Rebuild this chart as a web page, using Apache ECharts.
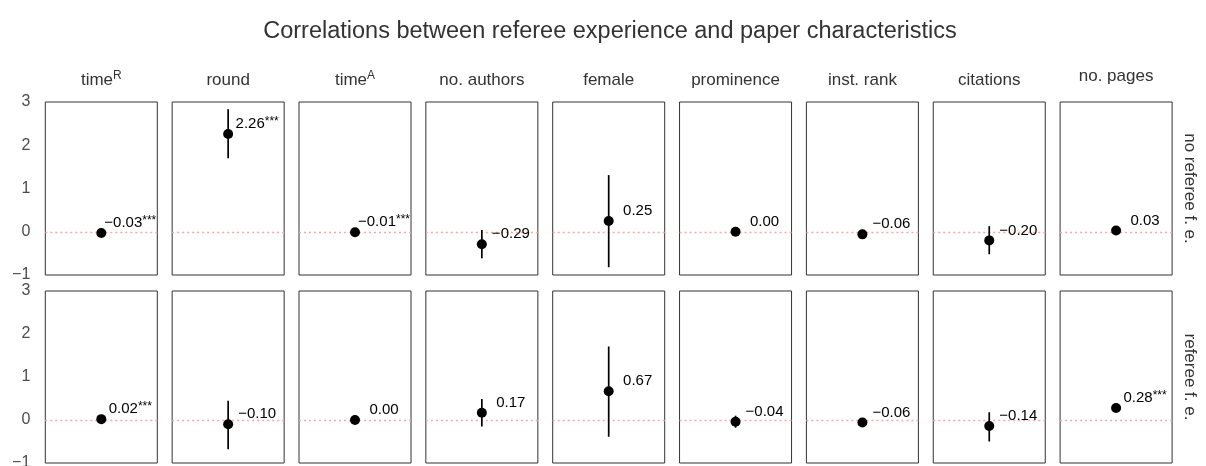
<!DOCTYPE html>
<html><head><meta charset="utf-8">
<script src="https://cdn.jsdelivr.net/npm/echarts@6/dist/echarts.min.js"></script>
<style>html,body{margin:0;padding:0;background:#fff}#c{width:1206px;height:466px}</style>
</head><body><div id="c"></div>
<script>
// ---- data ----
const chartTitle = 'Correlations between referee experience and paper characteristics';
const varNames = ['time', 'round', 'time', 'no. authors', 'female', 'prominence', 'inst. rank', 'citations', 'no. pages'];
const varSups  = ['R', '', 'A', '', '', '', '', '', ''];
const rowLabels = ['no referee f. e.', 'referee f. e.'];
const yTicks = [-1, 0, 1, 2, 3];

const estNoFE   = [-0.03, 2.26, -0.01, -0.29, 0.25, 0.00, -0.06, -0.20, 0.03];
const loNoFE    = [-0.06, 1.70, -0.03, -0.61, -0.82, -0.03, -0.09, -0.52, 0.00];
const hiNoFE    = [ 0.00, 2.83,  0.01,  0.04,  1.31,  0.03, -0.03,  0.13, 0.06];
const starsNoFE = ['***', '***', '***', '', '', '', '', '', ''];

const estFE   = [0.02, -0.10, 0.00, 0.17, 0.67, -0.04, -0.06, -0.14, 0.28];
const loFE    = [-0.01, -0.68, -0.03, -0.15, -0.39, -0.18, -0.09, -0.50, 0.24];
const hiFE    = [ 0.05,  0.45,  0.03,  0.49,  1.71,  0.10, -0.03,  0.18, 0.32];
const starsFE = ['***', '', '', '', '', '', '', '', '***'];

const rows = [
  {est: estNoFE, lo: loNoFE, hi: hiNoFE, stars: starsNoFE},
  {est: estFE, lo: loFE, hi: hiFE, stars: starsFE}
];

// ---- layout ----
const colLeft0 = 45.3, colStep = 126.85, colW = 112;
const rowTop = [102, 291], rowH = [173, 172];
const FONT = 'Liberation Sans, Arial, sans-serif';

const fmt = v => {
  const s = Math.abs(v).toFixed(2);
  return (v < 0 ? '\u2212' : '') + s;
};

const grids = [], xAxes = [], yAxes = [], series = [], graphics = [];
let gi = 0;
rows.forEach((row, r) => {
  varNames.forEach((name, c) => {
    grids.push({left: colLeft0 + c * colStep, top: rowTop[r], width: colW, height: rowH[r],
      containLabel: false, outerBoundsMode: 'none',
      show: true, borderColor: '#333', borderWidth: 1, backgroundColor: '#fff'});
    xAxes.push({type: 'value', gridIndex: gi, min: 0, max: 2, show: false});
    yAxes.push({type: 'value', gridIndex: gi, min: yTicks[0], max: yTicks[yTicks.length - 1], interval: 1,
      axisLine: {show: false}, axisTick: {show: false}, splitLine: {show: false},
      axisLabel: {show: c === 0, color: '#4d4d4d', fontSize: 16, margin: 15, fontFamily: FONT,
        formatter: v => (v < 0 ? '\u2212' + Math.abs(v) : String(v))}});
    series.push({
      type: 'custom', xAxisIndex: gi, yAxisIndex: gi, z: 3,
      data: [[1, row.lo[c], row.hi[c]]],
      renderItem: (params, api) => {
        const p1 = api.coord([api.value(0), api.value(1)]);
        const p2 = api.coord([api.value(0), api.value(2)]);
        return {type: 'line', shape: {x1: p1[0], y1: p1[1], x2: p2[0], y2: p2[1]},
          style: {stroke: '#000', lineWidth: 1.7}};
      },
      markLine: {
        silent: true, symbol: 'none', animation: false, z: 1,
        label: {show: false},
        lineStyle: {color: '#f6a9a9', type: [2, 3], width: 1.3, opacity: 1},
        data: [{yAxis: 0}]
      }
    });
    const starTxt = row.stars[c];
    series.push({
      type: 'scatter', xAxisIndex: gi, yAxisIndex: gi, z: 4,
      symbol: 'circle', symbolSize: 10, itemStyle: {color: '#000', opacity: 1},
      data: [[1, row.est[c]]],
      label: {
        show: true, position: 'inside', offset: [29, -10], align: 'center', verticalAlign: 'middle',
        opacity: 1,
        formatter: () => '{n|' + fmt(row.est[c]) + '}' + (starTxt ? '{s|' + starTxt + '}' : ''),
        rich: {
          n: {fontSize: 15, color: '#000', fontFamily: FONT, lineHeight: 17},
          s: {fontSize: 12, color: '#000', fontFamily: FONT, verticalAlign: 'top', lineHeight: 12}
        }
      }
    });
    gi++;
  });
});

// column headers
varNames.forEach((name, c) => {
  graphics.push({
    type: 'text', x: colLeft0 + c * colStep + colW / 2, y: c === varNames.length - 1 ? 76 : 80,
    style: {
      text: '{n|' + name + '}' + (varSups[c] ? '{s|' + varSups[c] + '}' : ''),
      align: 'center', verticalAlign: 'middle',
      rich: {
        n: {fontSize: 17, fill: '#333', fontFamily: FONT, lineHeight: 20},
        s: {fontSize: 12, fill: '#333', fontFamily: FONT, verticalAlign: 'top', lineHeight: 13}
      }
    }
  });
});
// row strip labels
rowLabels.forEach((lab, r) => {
  graphics.push({
    type: 'text', x: 1190, y: rowTop[r] + rowH[r] / 2, rotation: -Math.PI / 2,
    style: {text: lab, fontSize: 17, fill: '#333', align: 'center', verticalAlign: 'middle', fontFamily: FONT}
  });
});
// title
graphics.push({
  type: 'text', x: 610, y: 32,
  style: {text: chartTitle, fontSize: 23.5, fill: '#333', align: 'center', verticalAlign: 'middle', fontFamily: FONT}
});

const chart = echarts.init(document.getElementById('c'), null, {renderer: 'canvas'});
chart.setOption({
  animation: false,
  backgroundColor: '#fff',
  grid: grids, xAxis: xAxes, yAxis: yAxes, series: series, graphic: graphics
});
</script></body></html>
